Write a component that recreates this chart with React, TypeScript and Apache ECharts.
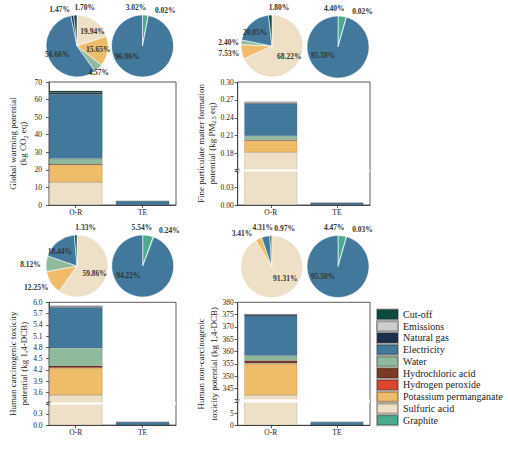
import React, { useEffect, useRef } from 'react';
import * as echarts from 'echarts';

const FONT = 'Liberation Serif';

const categories = ['O-R', 'TE'];
const legendNames = ['Cut-off', 'Emissions', 'Natural gas', 'Electricity', 'Water', 'Hydrochloric acid', 'Hydrogen peroxide', 'Potassium permanganate', 'Sulfuric acid', 'Graphite'];
// bottom -> top stacking order
const stackOrder = ['Sulfuric acid', 'Potassium permanganate', 'Hydrogen peroxide', 'Hydrochloric acid', 'Water', 'Electricity', 'Natural gas', 'Emissions', 'Cut-off', 'Graphite'];

const colors: Record<string, string> = {
  'Cut-off': '#0c4a40',
  'Emissions': '#cdcdcd',
  'Natural gas': '#1c2f4f',
  'Electricity': '#42789c',
  'Water': '#8fba9b',
  'Hydrochloric acid': '#7a3a23',
  'Hydrogen peroxide': '#d9472c',
  'Potassium permanganate': '#efbc6a',
  'Sulfuric acid': '#eee0c6',
  'Graphite': '#4bab8f',
};

// Bar values, in stackOrder
const gwpOR = [12.9, 10.15, 0.05, 0.3, 2.95, 36.6, 0.95, 0.05, 1.1, 0];
const gwpTE = [0, 0, 0, 0, 0.0005, 2.23, 0, 0, 0, 0.07];
const pmOR = [0.182, 0.0201, 0.0002, 0.0008, 0.0064, 0.0543, 0.001, 0.0015, 0.0007, 0];
const pmTE = [0, 0, 0, 0, 0.000001, 0.00382, 0, 0, 0, 0.00018];
const hctOR = [3.53, 0.72, 0.02, 0.04, 0.47, 1.08, 0.03, 0.005, 0.01, 0];
const hctTE = [0, 0, 0, 0, 0.0002, 0.08, 0, 0, 0, 0.0047];
const hnctOR = [342.2, 12.8, 0.2, 1.1, 2.0, 16.2, 0.5, 0.05, 0.05, 0];
const hnctTE = [0, 0, 0, 0, 0.0004, 1.34, 0, 0, 0, 0.063];

// Pie shares (%)
const gwpPieORNames = ['Sulfuric acid', 'Potassium permanganate', 'Water', 'Electricity', 'Natural gas', 'Cut-off'];
const gwpPieORValues = [19.94, 15.65, 4.57, 56.66, 1.47, 1.70];
const gwpPieTENames = ['Graphite', 'Water', 'Electricity'];
const gwpPieTEValues = [3.02, 0.02, 96.96];
const pmPieORNames = ['Sulfuric acid', 'Potassium permanganate', 'Water', 'Electricity', 'Cut-off'];
const pmPieORValues = [68.22, 7.53, 2.40, 20.05, 1.80];
const pmPieTENames = ['Graphite', 'Water', 'Electricity'];
const pmPieTEValues = [4.40, 0.02, 95.58];
const hctPieORNames = ['Sulfuric acid', 'Potassium permanganate', 'Water', 'Electricity', 'Cut-off'];
const hctPieORValues = [59.86, 12.25, 8.12, 18.44, 1.33];
const hctPieTENames = ['Graphite', 'Water', 'Electricity'];
const hctPieTEValues = [5.54, 0.24, 94.22];
const hnctPieORNames = ['Sulfuric acid', 'Potassium permanganate', 'Electricity', 'Cut-off'];
const hnctPieORValues = [91.31, 3.41, 4.31, 0.97];
const hnctPieTENames = ['Graphite', 'Water', 'Electricity'];
const hnctPieTEValues = [4.47, 0.03, 95.50];

// Axis settings
const gwpTicks = { max: 70, interval: 10, dec: 0 };
const pmTicks = { max: 0.3, interval: 0.03, dec: 2, brk: [0.056, 0.154] };
const hctTicks = { max: 6.0, interval: 0.3, dec: 1, brk: [0.55, 3.35] };
const hnctTicks = { max: 380, interval: 5, dec: 0, brk: [9.5, 340.5] };

type Panel = {
  grid: number[]; xMin: number; ticks: any; or: number[]; te: number[];
  name: string; nameGap: number; nameLH: number; labelMargin: number;
  pieOR: { names: string[]; values: number[]; center: number[]; offs: number[][] };
  pieTE: { names: string[]; values: number[]; center: number[]; offs: number[][] };
};

const panels: Panel[] = [
  {
    grid: [49, 82, 127, 123], xMin: -0.4, ticks: gwpTicks, or: gwpOR, te: gwpTE,
    name: 'Global warming potential\n(kg CO{s|2} eq)', nameGap: 20.4, nameLH: 10.6, labelMargin: 7,
    pieOR: { names: gwpPieORNames, values: gwpPieORValues, center: [77, 46], offs: [[4.7, 0], [3, 0], [9, 13.5], [-2.8, 1], [-14.6, -18], [8.8, -20.5]] },
    pieTE: { names: gwpPieTENames, values: gwpPieTEValues, center: [142.5, 46], offs: [[-8.2, -19.6], [19.3, -17.5], [-13.5, -8]] },
  },
  {
    grid: [237.7, 82, 132.3, 123], xMin: -0.5, ticks: pmTicks, or: pmOR, te: pmTE,
    name: 'Fine particulate matter formation\npotential (kg PM{s|2.5} eq)', nameGap: 20.5, nameLH: 11, labelMargin: 4,
    pieOR: { names: pmPieORNames, values: pmPieORValues, center: [272, 46], offs: [[1.7, 0], [-25, 4.4], [-25, -1], [-4.3, 0], [8, -20.5]] },
    pieTE: { names: pmPieTENames, values: pmPieTEValues, center: [338, 47], offs: [[-6.3, -20.6], [19.5, -18], [-12.3, -9.6]] },
  },
  {
    grid: [49, 302.3, 127, 122.8], xMin: -0.4, ticks: hctTicks, or: hctOR, te: hctTE,
    name: 'Human carcinogenic toxicity\npotential (kg 1,4-DCB)', nameGap: 19.2, nameLH: 11, labelMargin: 6.5,
    pieOR: { names: hctPieORNames, values: hctPieORValues, center: [77, 266], offs: [[0, 2], [-25.2, 11.7], [-28, 0], [-5.8, 0], [9.4, -20.5]] },
    pieTE: { names: hctPieTENames, values: hctPieTEValues, center: [142.7, 266], offs: [[-4, -20], [20.2, -18.2], [-11, -9]] },
  },
  {
    grid: [237.7, 302.3, 132.3, 123], xMin: -0.5, ticks: hnctTicks, or: hnctOR, te: hnctTE,
    name: 'Human non-carcinogenic\ntoxicity potential (kg 1,4-DCB)', nameGap: 17, nameLH: 13, labelMargin: 4,
    pieOR: { names: hnctPieORNames, values: hnctPieORValues, center: [271.7, 266.7], offs: [[8.6, -6.3], [-21.8, -16], [-5.4, -21.5], [13.5, -20.2]] },
    pieTE: { names: hnctPieTENames, values: hnctPieTEValues, center: [338, 266.5], offs: [[-6.4, -21], [19.4, -19.3], [-12.3, -8.6]] },
  },
];

const AXIS_COLOR = '#333';

function makePie(p: Panel['pieOR']) {
  return {
    type: 'pie',
    center: p.center,
    radius: 31,
    startAngle: 90,
    clockwise: true,
    silent: true,
    avoidLabelOverlap: false,
    data: p.names.map((n, k) => ({ name: n, value: p.values[k], itemStyle: { color: colors[n] } })),
    itemStyle: { borderColor: '#fff', borderWidth: 0.6 },
    label: {
      show: true,
      position: 'inside',
      formatter: (q: any) => Number(q.value).toFixed(2) + '%',
      fontSize: 7.5,
      fontWeight: 'bold',
      fontFamily: FONT,
      color: '#333',
      textBorderWidth: 0,
    },
    labelLine: { show: false },
    labelLayout: (params: any) => {
      const o = p.offs[params.dataIndex] || [0, 0];
      return { dx: o[0], dy: o[1] };
    },
    emphasis: { disabled: true },
  };
}

function buildOption() {
  const grid: any[] = [];
  const xAxis: any[] = [];
  const yAxis: any[] = [];
  const series: any[] = [];
  panels.forEach((p, i) => {
    grid.push({
      left: p.grid[0], top: p.grid[1], width: p.grid[2], height: p.grid[3],
      show: true, borderColor: AXIS_COLOR, borderWidth: 0.8, backgroundColor: 'transparent',
      containLabel: false, outerBoundsMode: 'none',
    });
    xAxis.push({
      gridIndex: i, type: 'value', min: p.xMin, max: 1.5,
      axisLine: { show: true, onZero: false, lineStyle: { color: AXIS_COLOR, width: 0.8 } },
      axisTick: { show: true, length: 3, customValues: [0, 1], lineStyle: { color: AXIS_COLOR, width: 0.8 } },
      axisLabel: {
        customValues: [0, 1],
        formatter: (v: number) => categories[Math.round(v)] ?? '',
        fontSize: 7.5, fontFamily: FONT, color: '#222', margin: 3,
      },
      splitLine: { show: false },
    });
    const t = p.ticks;
    const y: any = {
      gridIndex: i, type: 'value', min: 0, max: t.max, interval: t.interval,
      axisLine: { show: true, onZero: false, lineStyle: { color: AXIS_COLOR, width: 0.8 } },
      axisTick: { show: true, length: 3, lineStyle: { color: AXIS_COLOR, width: 0.8 } },
      axisLabel: {
        fontSize: 7.5, fontFamily: FONT, color: '#222', margin: p.labelMargin,
        formatter: (v: number) => {
          const k = v / t.interval;
          if (Math.abs(k - Math.round(k)) > 1e-6) return '';
          return Number(v).toFixed(t.dec);
        },
      },
      splitLine: { show: false },
      name: p.name,
      nameLocation: 'middle',
      nameRotate: 90,
      nameGap: p.nameGap,
      nameMoveOverlap: false,
      nameTextStyle: {
        fontSize: 9, fontFamily: FONT, color: '#222', lineHeight: p.nameLH,
        rich: { s: { fontSize: 6, fontFamily: FONT, color: '#222', lineHeight: 6, verticalAlign: 'bottom' } },
      },
    };
    if (t.brk) {
      y.breaks = [{ start: t.brk[0], end: t.brk[1], gap: '2%' }];
      y.breakArea = {
        show: true,
        itemStyle: { color: '#fff', borderColor: '#fff', borderWidth: 0, opacity: 1 },
        zigzagAmplitude: 0,
        zigzagZ: 100,
        expandOnClick: false,
      };
    }
    yAxis.push(y);
    const barW = (p.grid[2] / (1.5 - p.xMin)) * 0.8;
    stackOrder.forEach((name, k) => {
      const vals = [p.or[k], p.te[k]];
      series.push({
        type: 'bar', name, xAxisIndex: i, yAxisIndex: i, stack: 's' + i, barWidth: barW,
        silent: true,
        encode: { x: 1, y: 0 },
        data: vals.map((v, j) => ({
          value: [v, j],
          itemStyle: v === 0 ? { borderWidth: 0 } : undefined,
        })),
        itemStyle: {
          color: colors[name],
          borderColor: name === 'Emissions' ? '#999' : 'rgba(40,30,20,0.35)',
          borderWidth: 0.4,
        },
      });
    });
    series.push(makePie(p.pieOR));
    series.push(makePie(p.pieTE));
  });
  return {
    animation: false,
    backgroundColor: '#fff',
    textStyle: { fontFamily: FONT },
    grid, xAxis, yAxis, series,
    legend: {
      data: legendNames,
      orient: 'vertical',
      left: 376, top: 308.4,
      itemWidth: 21, itemHeight: 10, itemGap: -0.25,
      padding: 0, icon: 'rect', selectedMode: false,
      textStyle: { fontSize: 10, fontFamily: FONT, color: '#222' },
    },
  };
}

export default function App() {
  const ref = useRef<HTMLDivElement>(null);
  useEffect(() => {
    if (!ref.current) return;
    const chart = echarts.init(ref.current, undefined, { renderer: 'svg' });
    chart.setOption(buildOption() as any);
    // break markers on the y axes, positioned through the axis scale
    const zr = chart.getZr();
    panels.forEach((p, i) => {
      const b = p.ticks.brk;
      if (!b) return;
      const py = chart.convertToPixel({ yAxisIndex: i } as any, (b[0] + b[1]) / 2) as any;
      if (typeof py !== 'number' || !isFinite(py)) return;
      const el = new (echarts.graphic as any).Text({
        x: p.grid[0],
        y: py,
        rotation: Math.PI * 0.4,
        z: 300,
        silent: true,
        style: { text: '≈', font: '9px "Liberation Serif"', fill: '#333', align: 'center', verticalAlign: 'middle' },
      });
      zr.add(el);
    });
    return () => chart.dispose();
  }, []);
  return <div ref={ref} style={{ position: 'fixed', left: 0, top: 0, width: 508, height: 449 }} />;
}
